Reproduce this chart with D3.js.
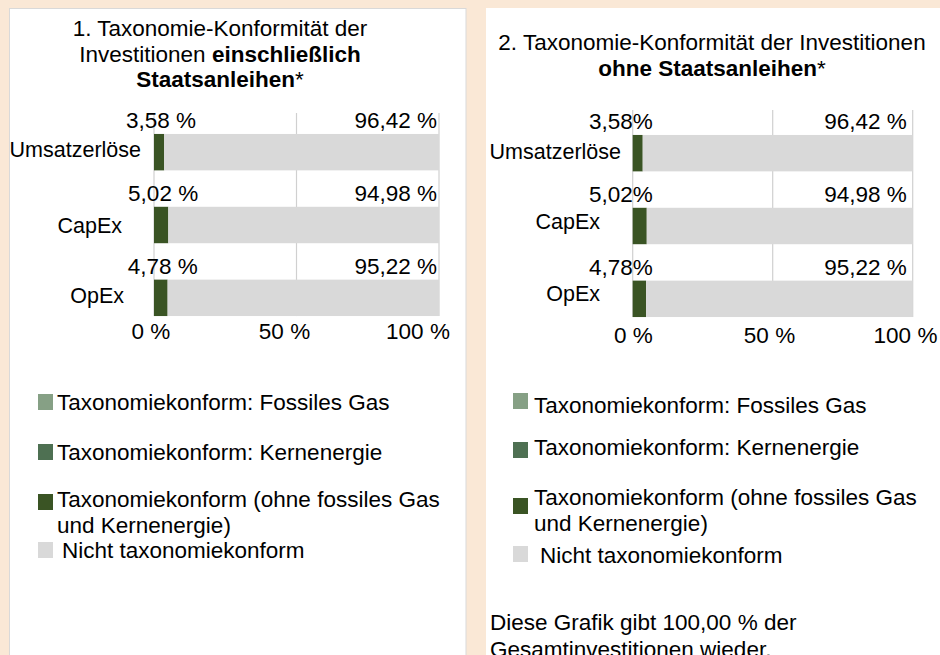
<!DOCTYPE html>
<html lang="de">
<head>
<meta charset="utf-8">
<script src="https://cdn.jsdelivr.net/npm/d3@7"></script>
<style>
  html, body { margin: 0; padding: 0; background: #fae8d6; overflow: hidden; }
  svg { display: block; font-family: "Liberation Sans", Arial, sans-serif; }
</style>
</head>
<body>
<div id="chart"></div>
<script>
// Data
const categories = ["Umsatzerlöse", "CapEx", "OpEx"];
const seriesKeys = ["gas", "nuc", "aligned", "not"];
const legendLabels = [
    ["Taxonomiekonform: Fossiles Gas"],
    ["Taxonomiekonform: Kernenergie"],
    ["Taxonomiekonform (ohne fossiles Gas", "und Kernenergie)"],
    ["Nicht taxonomiekonform"]
];
const colors = ["#86a085", "#4e7052", "#3a5424", "#d9d9d9"];
const tickValues = [0, 50, 100];

// 1. incl. sovereign bonds
const gasIncl = [0, 0, 0];
const nucIncl = [0, 0, 0];
const alignedIncl = [3.58, 5.02, 4.78];
const notAlignedIncl = [96.42, 94.98, 95.22];
// 2. excl. sovereign bonds
const gasExcl = [0, 0, 0];
const nucExcl = [0, 0, 0];
const alignedExcl = [3.58, 5.02, 4.78];
const notAlignedExcl = [96.42, 94.98, 95.22];

const noteLines = ["Diese Grafik gibt 100,00 % der", "Gesamtinvestitionen wieder."];

const width = 940;
const height = 655;
const fontSize = 22.5;
const catFontSize = 21.5;

const fmt = d3.formatLocale({ decimal: ",", thousands: ".", grouping: [3], currency: ["", " €"] }).format(".2f");

const svg = d3.select("#chart")
    .append("svg")
    .attr("width", width)
    .attr("height", height)
    .attr("viewBox", [0, 0, width, height]);

const panels = [
    {
        values: [gasIncl, nucIncl, alignedIncl, notAlignedIncl],
        box: [9.5, 8.5, 456.5, 660],
        border: true,
        title: [
            [{ t: "1. Taxonomie-Konformität der" }],
            [{ t: "Investitionen " }, { t: "einschließlich", b: true }],
            [{ t: "Staatsanleihen", b: true }, { t: "*" }]
        ],
        titleX: 220, titleY: 36, titleStep: 25.6,
        xRange: [154, 439], yRange: [115.75, 334.25], gridTop: 113,
        tickRange: [150.5, 417.5], tickY: 339,
        catRight: [141, 122, 124], catDy: [5, 8, 5],
        leftMode: "center", pctSep: " ", rightPad: 2,
        legend: { sx: 38, tx: 57, squares: [394, 444, 494, 542], text: [410, 460, 507, 558], nichtDx: 5 },
        note: false
    },
    {
        values: [gasExcl, nucExcl, alignedExcl, notAlignedExcl],
        box: [486, 8, 470, 660],
        border: false,
        title: [
            [{ t: "2. Taxonomie-Konformität der Investitionen" }],
            [{ t: "ohne Staatsanleihen", b: true }, { t: "*" }]
        ],
        titleX: 712, titleY: 50, titleStep: 26,
        xRange: [632.7, 912.7], yRange: [116.75, 335.25], gridTop: 110,
        tickRange: [633, 905], tickY: 343,
        catRight: [621, 600, 600], catDy: [6, 3, 2],
        leftMode: "end", pctSep: "", rightPad: 6,
        legend: { sx: 513, tx: 534, squares: [393, 442, 498, 546], text: [413, 455, 505, 563], nichtDx: 6 },
        note: true
    }
];

function drawPanel(p) {
    const g = svg.append("g");

    // White card
    g.append("rect")
        .attr("x", p.box[0])
        .attr("y", p.box[1])
        .attr("width", p.box[2])
        .attr("height", p.box[3])
        .attr("fill", "#fff")
        .attr("stroke", p.border ? "#d9d9d9" : "none");

    // Title
    const title = g.append("text")
        .attr("text-anchor", "middle")
        .attr("font-size", fontSize)
        .attr("fill", "#000");
    p.title.forEach((line, i) => {
        line.forEach((part, j) => {
            const ts = title.append("tspan")
                .attr("font-weight", part.b ? "bold" : "normal")
                .text(part.t);
            if (j === 0) ts.attr("x", p.titleX).attr("y", p.titleY + i * p.titleStep);
        });
    });

    const rows = categories.map((c, i) => {
        const r = { cat: c };
        seriesKeys.forEach((k, s) => { r[k] = p.values[s][i]; });
        return r;
    });
    const layers = d3.stack().keys(seriesKeys)(rows);

    const x = d3.scaleLinear().domain([0, 100]).range(p.xRange);
    const y = d3.scaleBand().domain(categories).range(p.yRange).paddingInner(0.5).paddingOuter(0.25);

    // Gridlines
    g.append("g")
        .selectAll("line")
        .data(tickValues)
        .join("line")
        .attr("x1", d => x(d))
        .attr("x2", d => x(d))
        .attr("y1", p.gridTop)
        .attr("y2", y(categories[categories.length - 1]) + y.bandwidth())
        .attr("stroke", "#d0d0d0")
        .attr("stroke-width", 1.2);

    // Stacked bars
    g.append("g")
        .selectAll("g")
        .data(layers)
        .join("g")
        .attr("fill", (d, i) => colors[i])
        .selectAll("rect")
        .data(d => d)
        .join("rect")
        .attr("x", d => x(d[0]))
        .attr("y", d => y(d.data.cat))
        .attr("width", d => x(d[1]) - x(d[0]))
        .attr("height", y.bandwidth());

    // Data labels
    const aligned = layers[2];
    const notAligned = layers[3];
    g.append("g")
        .attr("font-size", fontSize)
        .selectAll("text")
        .data(aligned)
        .join("text")
        .attr("text-anchor", p.leftMode === "center" ? "middle" : "end")
        .attr("x", d => p.leftMode === "center" ? (x(d[0]) + x(d[1])) / 2 + 2 : x(0) + 20)
        .attr("y", d => y(d.data.cat) - 6)
        .text(d => fmt(d[1] - d[0]) + p.pctSep + "%");

    g.append("g")
        .attr("font-size", fontSize)
        .selectAll("text")
        .data(notAligned)
        .join("text")
        .attr("text-anchor", "end")
        .attr("x", x(100) - p.rightPad)
        .attr("y", d => y(d.data.cat) - 6)
        .text(d => fmt(d[1] - d[0]) + " %");

    // Category labels
    g.append("g")
        .attr("font-size", catFontSize)
        .selectAll("text")
        .data(categories)
        .join("text")
        .attr("text-anchor", "end")
        .attr("x", (d, i) => p.catRight[i])
        .attr("y", (d, i) => y(d) + y.bandwidth() / 2 + p.catDy[i])
        .text(d => d);

    // Axis tick labels
    const xt = d3.scaleLinear().domain([0, 100]).range(p.tickRange);
    g.append("g")
        .attr("transform", `translate(0,${p.tickY})`)
        .call(d3.axisBottom(xt).tickValues(tickValues).tickSize(0).tickFormat(d => d + " %"))
        .call(a => a.select(".domain").remove())
        .selectAll("text")
        .attr("y", 0)
        .attr("dy", 0)
        .attr("fill", "#000")
        .attr("font-size", fontSize)
        .attr("font-family", "'Liberation Sans', Arial, sans-serif");

    // Legend
    const lg = g.append("g").attr("font-size", fontSize);
    legendLabels.forEach((lines, i) => {
        lg.append("rect")
            .attr("x", p.legend.sx)
            .attr("y", p.legend.squares[i])
            .attr("width", 15)
            .attr("height", 16)
            .attr("fill", colors[i]);
        const t = lg.append("text");
        lines.forEach((ln, j) => {
            t.append("tspan")
                .attr("x", p.legend.tx + (i === 3 ? p.legend.nichtDx : 0))
                .attr("y", p.legend.text[i] + j * 25.5)
                .text(ln);
        });
    });

    if (p.note) {
        g.append("text")
            .attr("font-size", fontSize)
            .selectAll("tspan")
            .data(noteLines)
            .join("tspan")
            .attr("x", 490)
            .attr("y", (d, i) => 630 + i * 27)
            .text(d => d);
    }
}

panels.forEach(drawPanel);
</script>
</body>
</html>
